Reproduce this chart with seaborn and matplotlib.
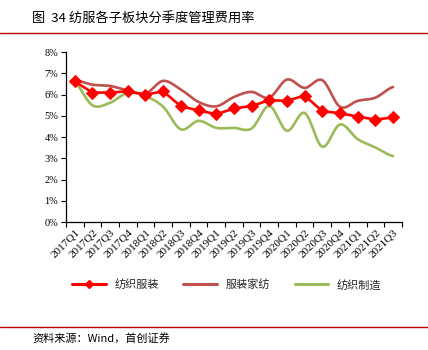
"""纺服各子板块分季度管理费用率 - recreated with seaborn."""

import matplotlib

matplotlib.use("Agg", force=True)
import matplotlib.pyplot as plt
import numpy as np
import pandas as pd
import seaborn as sns
from matplotlib.lines import Line2D
from matplotlib.ticker import FuncFormatter

quarters = [
    "2017Q1", "2017Q2", "2017Q3", "2017Q4",
    "2018Q1", "2018Q2", "2018Q3", "2018Q4",
    "2019Q1", "2019Q2", "2019Q3", "2019Q4",
    "2020Q1", "2020Q2", "2020Q3", "2020Q4",
    "2021Q1", "2021Q2", "2021Q3",
]
textile_apparel = [6.62, 6.10, 6.10, 6.16, 6.00, 6.16, 5.45, 5.26, 5.08, 5.35,
                   5.47, 5.74, 5.71, 5.96, 5.22, 5.13, 4.97, 4.83, 4.93]
apparel_home = [6.68, 6.47, 6.41, 6.20, 6.05, 6.65, 6.24, 5.66, 5.45, 5.89,
                6.13, 5.86, 6.71, 6.32, 6.68, 5.43, 5.71, 5.86, 6.36]
textile_mfg = [6.57, 5.50, 5.62, 6.09, 5.93, 5.43, 4.37, 4.77, 4.44, 4.44,
               4.41, 5.47, 4.30, 5.14, 3.55, 4.60, 3.91, 3.52, 3.11]
series_names = ["纺织服装", "服装家纺", "纺织制造"]

RED = "#FF0000"
BROWN = "#C0504D"
GREEN = "#9BBB59"
CJK = ["Noto Sans CJK SC", "DejaVu Sans"]
SERIF = ["Liberation Serif", "DejaVu Serif"]


def smooth_curve(values, steps=16):
    # Catmull-Rom path through the read points, like Excel's smoothed line
    p = np.r_[values[0], values, values[-1]]
    xs, ys = [], []
    t = np.linspace(0, 1, steps, endpoint=False)
    for i in range(len(values) - 1):
        p0, p1, p2, p3 = p[i], p[i + 1], p[i + 2], p[i + 3]
        ys.append(0.5 * (2 * p1 + (-p0 + p2) * t
                         + (2 * p0 - 5 * p1 + 4 * p2 - p3) * t ** 2
                         + (-p0 + 3 * p1 - 3 * p2 + p3) * t ** 3))
        xs.append(i + t)
    xs.append([len(values) - 1])
    ys.append([values[-1]])
    return pd.DataFrame({"x": np.concatenate(xs), "y": np.concatenate(ys)})


sns.set_theme(style="white")
plt.rcParams["font.family"] = CJK
plt.rcParams["axes.unicode_minus"] = False

fig = plt.figure(figsize=(4.28, 3.5), dpi=100)
ax = fig.add_axes([0.154, 0.365, 0.785, 0.486])

x = np.arange(len(quarters))
sns.lineplot(data=smooth_curve(apparel_home), x="x", y="y", color=BROWN,
             linewidth=1.9, ax=ax)
sns.lineplot(data=smooth_curve(textile_mfg), x="x", y="y", color=GREEN,
             linewidth=1.9, ax=ax)
sns.lineplot(x=x, y=textile_apparel, color=RED, linewidth=1.9, marker="D",
             markersize=6, markeredgecolor=RED, ax=ax)

ax.set_xlim(-0.5, len(quarters) - 0.5)
ax.set_ylim(0, 8)
ax.set_yticks(range(0, 9))
ax.yaxis.set_major_formatter(FuncFormatter(lambda v, _: f"{v:.0f}%"))
ax.set_xticks(x)
ax.set_xticklabels(quarters, rotation=45, ha="right", rotation_mode="anchor")
ax.set_xticks(np.arange(-0.5, len(quarters)), minor=True)
ax.tick_params(axis="x", which="major", length=0, pad=4)
ax.tick_params(axis="x", which="minor", length=3.5, width=0.8, color="black",
               direction="out", bottom=True)
ax.tick_params(axis="y", length=3.5, width=0.8, color="black", left=True,
               direction="out", pad=2)
for lab in ax.get_xticklabels():
    lab.set_family(SERIF)
    lab.set_fontsize(8)
    lab.set_color("black")
for lab in ax.get_yticklabels():
    lab.set_family(SERIF)
    lab.set_fontsize(7.5)
    lab.set_color("black")
ax.set_xlabel("")
ax.set_ylabel("")
for side in ("top", "right"):
    ax.spines[side].set_visible(False)
for side in ("left", "bottom"):
    ax.spines[side].set_color("black")
    ax.spines[side].set_linewidth(0.9)

handles = [
    Line2D([], [], color=RED, linewidth=2.2, marker="D", markersize=4),
    Line2D([], [], color=BROWN, linewidth=2.2),
    Line2D([], [], color=GREEN, linewidth=2.2),
]
fig.legend(handles, series_names, loc="center", bbox_to_anchor=(0.53, 0.186),
           ncol=3, frameon=False, fontsize=8, handlelength=3.0,
           columnspacing=2.2, handletextpad=0.8)

fig.text(0.075, 0.948, "图  34 纺服各子板块分季度管理费用率", fontsize=9.5,
         va="center", ha="left", color="black")
fig.add_artist(Line2D([0, 1], [0.905, 0.905], color="#C00000", linewidth=1.0))
fig.add_artist(Line2D([0, 1], [0.067, 0.067], color="#C00000", linewidth=1.0))
fig.text(0.075, 0.032, "资料来源：Wind，首创证券", fontsize=8, style="italic",
         va="center", ha="left", color="black")

fig.savefig("out.png", dpi=100)
